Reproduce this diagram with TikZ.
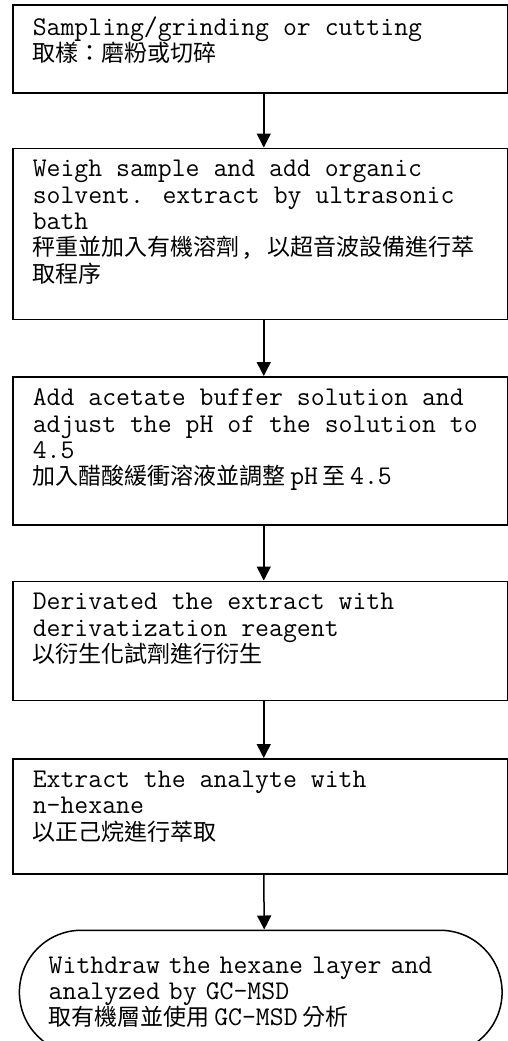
\documentclass[tikz,border=0pt]{standalone}
\usepackage{fontspec}
\newfontfamily\cjk[Scale=0.852]{Noto Sans CJK TC}
\usetikzlibrary{arrows.meta,positioning,shapes.misc}
\newcommand{\steptext}[2]{\parbox[t][#1][t]{227.5pt}{\raggedright #2}}
\tikzset{
  stepbox/.style={draw, rectangle, line width=0.75pt, inner xsep=10pt, inner ysep=6pt},
  endbox/.style={draw, rounded rectangle, line width=0.75pt, minimum width=248pt, minimum height=62pt, text width=212pt, align=left},
  arr/.style={line width=0.75pt, -{Triangle[length=7pt,width=7pt]}},
}

\begin{document}
\begin{tikzpicture}[node distance=27.5pt, font=\ttfamily\fontsize{13.5pt}{13.2pt}\selectfont]
\useasboundingbox (0,0) rectangle (254pt,-520.5pt);
\node[stepbox, anchor=north west] (b1) at (6pt,-2pt) {\steptext{32pt}{Sampling/grinding or cutting\\
  {\cjk 取樣：磨粉或切碎}}};
\node[stepbox, below=27pt of b1] (b2) {\steptext{73.5pt}{Weigh sample and add organic\\
  solvent. extract by ultrasonic\\
  bath\\
  {\cjk 秤重並加入有機溶劑}, {\cjk 以超音波設備進行萃}\\
  {\cjk 取程序}}};
\node[stepbox, below=28pt of b2] (b3) {\steptext{62pt}{Add acetate buffer solution and\\
  adjust the pH of the solution to\\
  4.5\\
  {\cjk 加入醋酸緩衝溶液並調整}\,pH\,{\cjk 至}\,4.5}};
\node[stepbox, below=of b3] (b4) {\steptext{47.5pt}{Derivated the extract with\\
  derivatization reagent\\
  {\cjk 以衍生化試劑進行衍生}}};
\node[stepbox, below=28.5pt of b4] (b5) {\steptext{45.5pt}{Extract the analyte with\\
  n-hexane\\
  {\cjk 以正己烷進行萃取}}};
\node[endbox, below=of b5, xshift=0.25pt] (gc) {Withdraw the hexane layer and\\
  analyzed by GC-MSD\\
  {\cjk 取有機層並使用}\,GC-MSD\,{\cjk 分析}};
% arrows between the steps
\foreach \a/\b in {b1/b2, b2/b3, b3/b4, b4/b5, b5/gc}
  \draw[arr] ([xshift=1.75pt]\a.south) -- ([xshift=1.75pt]\b.north);
\end{tikzpicture}
\end{document}
